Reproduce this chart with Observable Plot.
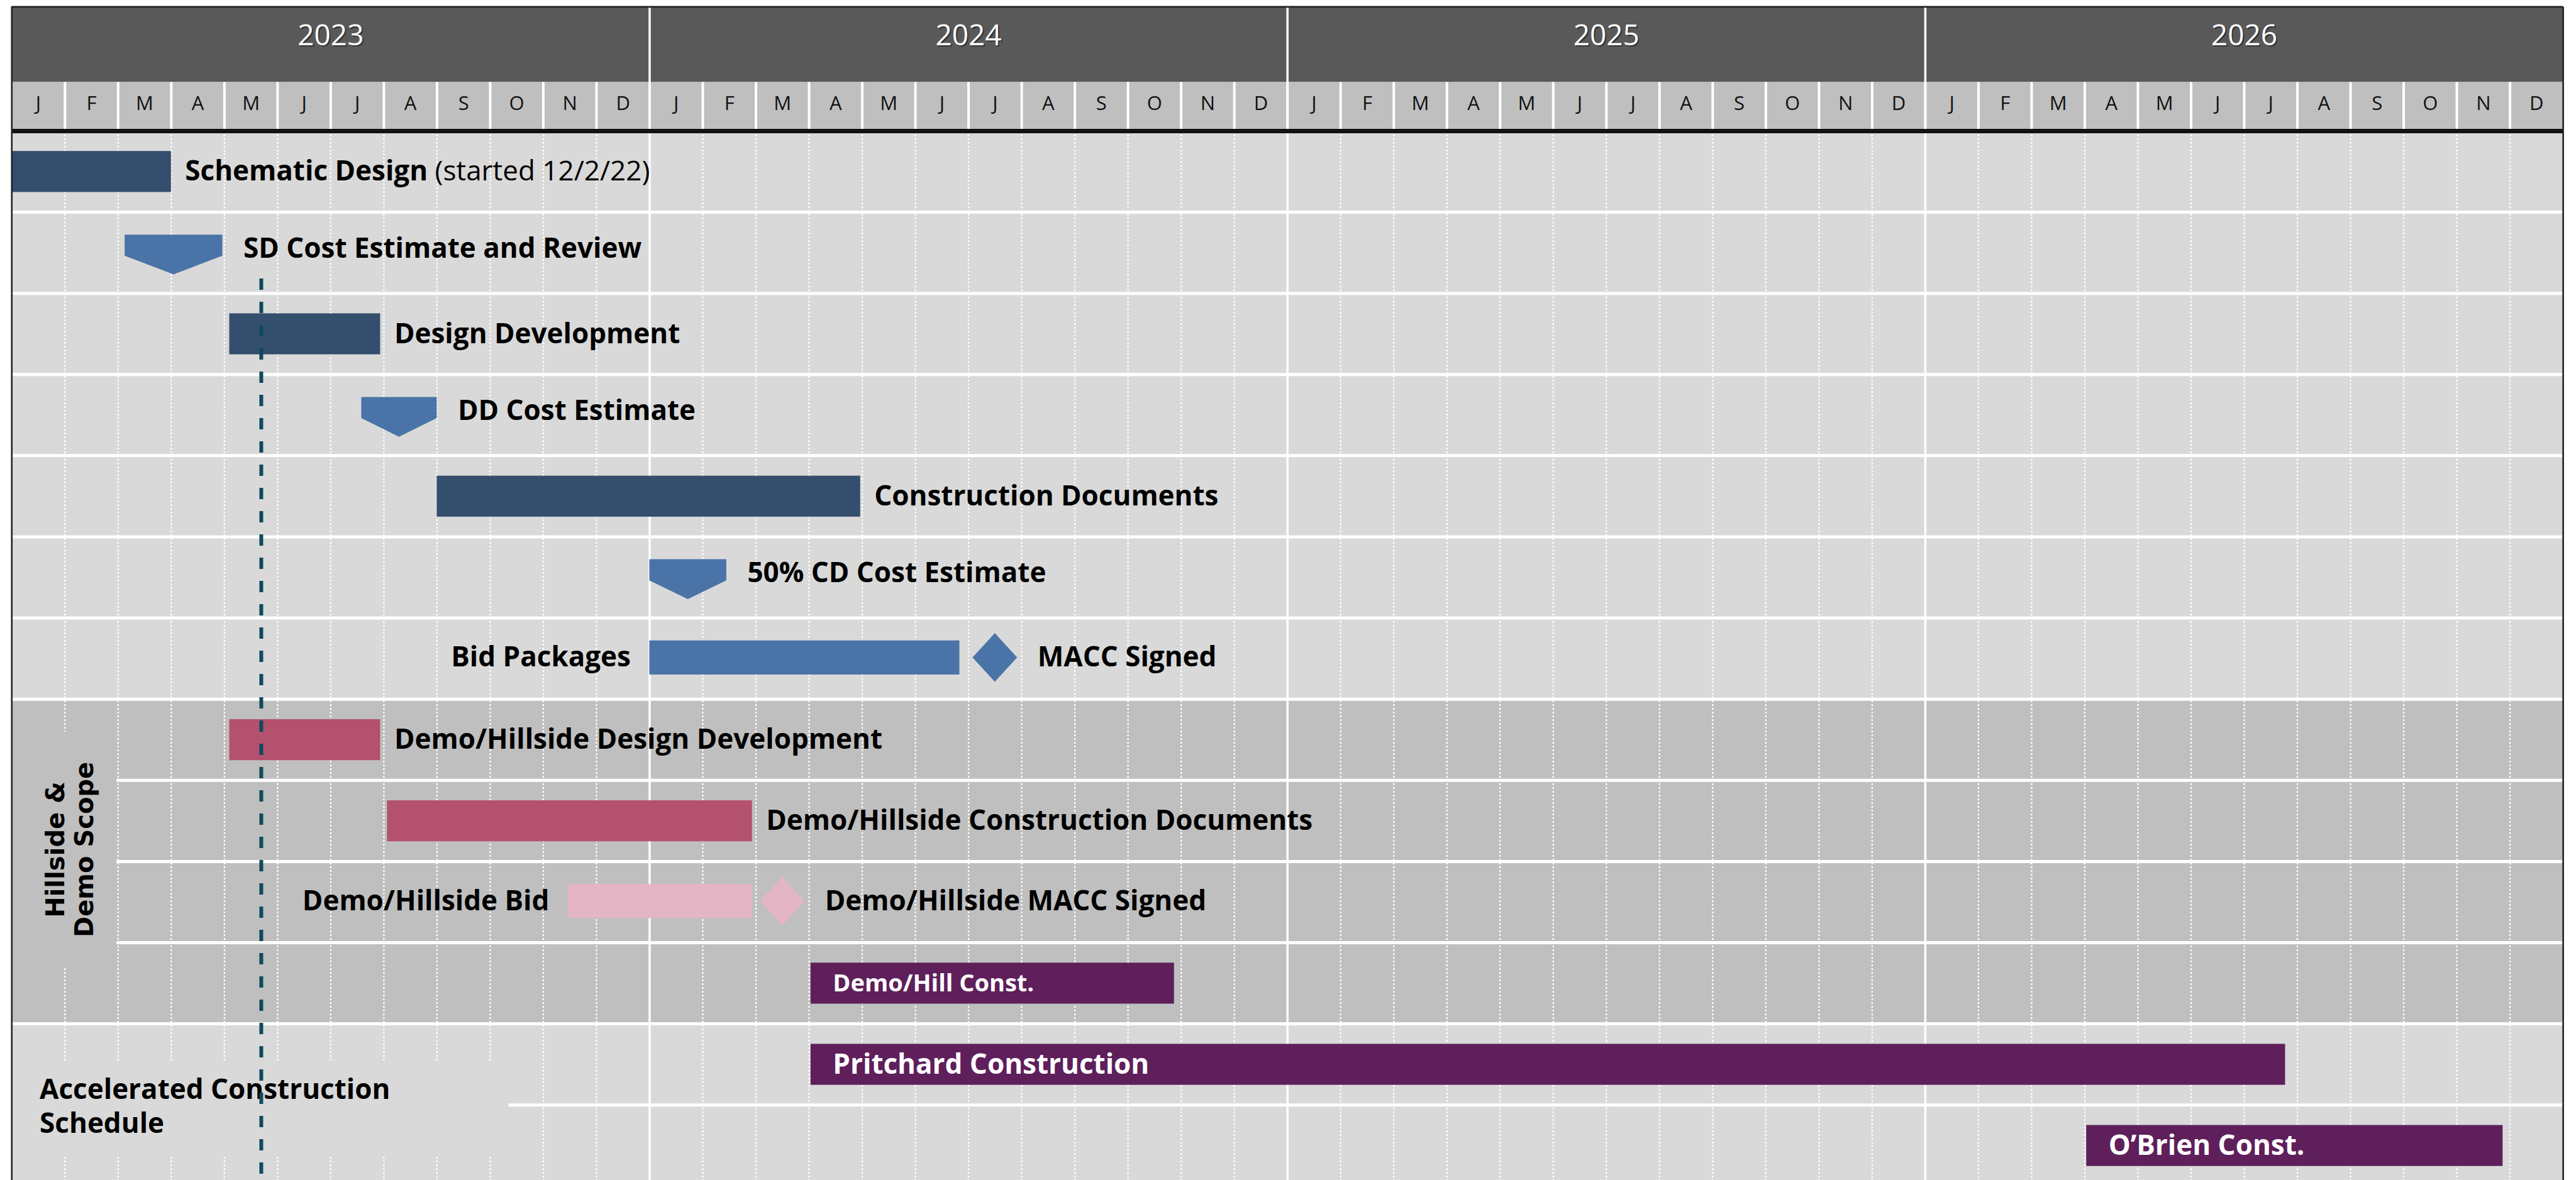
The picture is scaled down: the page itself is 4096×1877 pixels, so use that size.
<!DOCTYPE html>
<html>
<head>
<meta charset="utf-8">
<script src="https://cdn.jsdelivr.net/npm/d3@7"></script>
<script src="https://cdn.jsdelivr.net/npm/@observablehq/plot@0.6"></script>
<style>
  html, body { margin: 0; padding: 0; background: #ffffff; overflow: hidden; }
  #chart svg { display: block; }
</style>
</head>
<body>
<div id="chart"></div>
<script>
// ---------------- data ----------------
const years = [2023, 2024, 2025, 2026];
const monthLetters = ["J", "F", "M", "A", "M", "J", "J", "A", "S", "O", "N", "D"];

const taskNames = [
  "Schematic Design",
  "SD Cost Estimate and Review",
  "Design Development",
  "DD Cost Estimate",
  "Construction Documents",
  "50% CD Cost Estimate",
  "Bid Packages",
  "Demo/Hillside Design Development",
  "Demo/Hillside Construction Documents",
  "Demo/Hillside Bid",
  "Demo/Hill Const.",
  "Pritchard Construction",
  "O’Brien Const."
];
const taskNotes = ["(started 12/2/22)", "", "", "", "", "", "", "", "", "", "", "", ""];
const taskStarts = [
  "2022-12-02", "2023-03-05", "2023-05-04", "2023-07-19", "2023-09-01", "2024-01-01", "2024-01-01",
  "2023-05-04", "2023-08-03", "2023-11-15", "2024-04-02", "2024-04-02", "2026-04-02"
];
const taskEnds = [
  "2023-03-31", "2023-04-29", "2023-07-29", "2023-08-31", "2024-04-29", "2024-02-13", "2024-06-25",
  "2023-07-29", "2024-02-27", "2024-02-27", "2024-10-27", "2026-07-24", "2026-11-26"
];
const taskTypes = [
  "Design", "Estimate", "Design", "Estimate", "Design", "Estimate", "Bid",
  "Demo design", "Demo design", "Demo bid", "Construction", "Construction", "Construction"
];
const taskSections = [
  "Design", "Design", "Design", "Design", "Design", "Design", "Design",
  "Hillside & Demo Scope", "Hillside & Demo Scope", "Hillside & Demo Scope", "Hillside & Demo Scope",
  "Accelerated Construction Schedule", "Accelerated Construction Schedule"
];

const milestoneNames = ["MACC Signed", "Demo/Hillside MACC Signed"];
const milestoneDates = ["2024-07-16", "2024-03-16"];
const milestoneHosts = ["Bid Packages", "Demo/Hillside Bid"];

const todayDate = "2023-05-22";
const todayFromTask = "SD Cost Estimate and Review";

const sectionNames = ["Design", "Hillside & Demo Scope", "Accelerated Construction Schedule"];
const sectionLabels = ["", "Hillside &\nDemo Scope", "Accelerated Construction\nSchedule"];

// ---------------- styles & layout ----------------
const W = 4096, H = 1877, S = 0.87;
const X0 = 21 * S, X1 = 4684 * S;
const ROW0 = 239 * S, ROWH = 148.4 * S;
const HDR_TOP = -1.53, YEAR_BOTTOM = -0.60, YEAR_TEXT_Y = -1.172, MONTH_TEXT_Y = -0.335;
const FONT = "'Open Sans', 'Liberation Sans', Arial, sans-serif";
const LABEL_SIZE = 44;

const typeColor = {
  "Design": "#344e6e",
  "Estimate": "#4a74a7",
  "Bid": "#4a74a7",
  "Demo design": "#b4516f",
  "Demo bid": "#e3b5c5",
  "Construction": "#5e1f5b"
};
const sectionFill = {
  "Design": "#d9d9d9",
  "Hillside & Demo Scope": "#bfbfbf",
  "Accelerated Construction Schedule": "#d9d9d9"
};
const BAR = {top: 0.25, bottom: 0.755};
const THIN = {top: 0.28, bottom: 0.70};
const PENT = {top: 0.28, shoulder: 0.54, tip: 0.77};
const DIAM = {mid: 0.49, half: 0.30, halfWidth: 0.42};
const thinTypes = new Set(["Bid", "Demo bid"]);
const leftTypes = new Set(["Bid", "Demo bid"]);
const insideTypes = new Set(["Construction"]);
const smallLabels = new Set(["Demo/Hill Const."]);
const rotatedSections = new Set(["Hillside & Demo Scope"]);
const boxPad = {
  "Hillside & Demo Scope": {r: 28, t: 48, b: 48},
  "Accelerated Construction Schedule": {r: 188, t: 13, b: 24}
};

// ---------------- derived ----------------
function monthPos(str, part) {
  const [y, m, d] = str.split("-").map(Number);
  const dim = new Date(Date.UTC(y, m, 0)).getUTCDate();
  const off = part === "start" ? d - 1 : part === "end" ? d : d - 0.5;
  return (y - years[0]) * 12 + (m - 1) + off / dim;
}
const nMonths = years.length * 12;
const nRows = taskNames.length;
const visibleRows = (H - ROW0) / ROWH;

const tasks = taskNames.map((name, i) => ({
  name, note: taskNotes[i], row: i, type: taskTypes[i], section: taskSections[i],
  start: monthPos(taskStarts[i], "start"), end: monthPos(taskEnds[i], "end")
}));
const geom = t => thinTypes.has(t.type) ? THIN : BAR;

const bars = tasks.filter(t => t.type !== "Estimate").map(t => ({
  ...t, y1: t.row + geom(t).top, y2: t.row + geom(t).bottom
}));
const pentagons = tasks.filter(t => t.type === "Estimate").flatMap(t => [
  {name: t.name, x: t.start, y1: t.row + PENT.top, y2: t.row + PENT.shoulder, type: t.type},
  {name: t.name, x: (t.start + t.end) / 2, y1: t.row + PENT.top, y2: t.row + PENT.tip, type: t.type},
  {name: t.name, x: t.end, y1: t.row + PENT.top, y2: t.row + PENT.shoulder, type: t.type}
]);
const milestones = milestoneNames.map((name, i) => {
  const host = tasks.find(t => t.name === milestoneHosts[i]);
  return {name, row: host.row, type: host.type, pos: monthPos(milestoneDates[i], "mid")};
});
const diamonds = milestones.flatMap(m => [
  {name: m.name, x: m.pos - DIAM.halfWidth, y1: m.row + DIAM.mid, y2: m.row + DIAM.mid, type: m.type},
  {name: m.name, x: m.pos, y1: m.row + DIAM.mid - DIAM.half, y2: m.row + DIAM.mid + DIAM.half, type: m.type},
  {name: m.name, x: m.pos + DIAM.halfWidth, y1: m.row + DIAM.mid, y2: m.row + DIAM.mid, type: m.type}
]);

const labels = tasks.map(t => {
  const side = insideTypes.has(t.type) ? "inside" : leftTypes.has(t.type) ? "left" : "right";
  const est = t.type === "Estimate";
  const g = geom(t);
  return {
    name: t.name,
    text: t.note ? t.name + " " + t.note : t.name,
    x: side === "right" ? t.end : t.start,
    y: est ? t.row + 0.45 : t.row + (g.top + g.bottom) / 2,
    side, est, small: smallLabels.has(t.name)
  };
});

const sections = sectionNames.map((name, i) => {
  const rows = tasks.filter(t => t.section === name).map(t => t.row);
  return {name, label: sectionLabels[i], r1: d3.min(rows), r2: d3.max(rows) + 1};
});
const todayPos = monthPos(todayDate, "mid");
const todayStartRow = tasks.find(t => t.name === todayFromTask).row + 0.82;

const monthIdx = d3.range(nMonths);
const innerMonthLines = d3.range(1, nMonths).filter(m => m % 12 !== 0);
const yearLines = d3.range(12, nMonths, 12);

// ---------------- plot ----------------
const svg = Plot.plot({
  width: W,
  height: H,
  marginTop: 0, marginRight: 0, marginBottom: 0, marginLeft: 0,
  x: {domain: [0, nMonths], range: [X0, X1], clamp: true, axis: null},
  y: {domain: [0, visibleRows], range: [ROW0, H], axis: null},
  color: {type: "identity"},
  style: {fontFamily: FONT, background: "white"},
  marks: [
    // section backgrounds
    Plot.rect(sections, {x1: 0, x2: nMonths, y1: "r1", y2: "r2", fill: d => sectionFill[d.name]}),
    // header bands
    Plot.rect(years, {x1: (d, i) => i * 12, x2: (d, i) => i * 12 + 12, y1: HDR_TOP, y2: YEAR_BOTTOM, fill: "#595959"}),
    Plot.rect([0], {x1: 0, x2: nMonths, y1: YEAR_BOTTOM, y2: 0, fill: "#bfbfbf"}),
    // gridlines
    Plot.ruleX(innerMonthLines, {y1: 0, y2: nRows, stroke: "white", strokeWidth: 2.3, strokeDasharray: "3,3"}),
    Plot.ruleX(d3.range(1, nMonths), {y1: YEAR_BOTTOM, y2: 0, stroke: "white", strokeWidth: 4}),
    Plot.ruleY(d3.range(1, nRows), {x1: 0, x2: nMonths, stroke: "white", strokeWidth: 5}),
    Plot.ruleX(yearLines, {y1: HDR_TOP, y2: nRows, stroke: "white", strokeWidth: 3.5}),
    // task shapes
    Plot.rect(bars, {x1: "start", x2: "end", y1: "y1", y2: "y2", fill: d => typeColor[d.type], ariaLabel: () => "task bar"}),
    Plot.area(pentagons, {x1: "x", y1: "y1", y2: "y2", z: "name", fill: d => typeColor[d.type], curve: "linear"}),
    Plot.area(diamonds, {x1: "x", y1: "y1", y2: "y2", z: "name", fill: d => typeColor[d.type], curve: "linear"}),
    // task labels
    Plot.text(labels.filter(d => d.side === "right" && !d.est), {
      x: "x", y: "y", text: "text", textAnchor: "start", dx: 22, fontSize: LABEL_SIZE, fontWeight: "bold", fill: "#000"
    }),
    Plot.text(labels.filter(d => d.side === "right" && d.est), {
      x: "x", y: "y", text: "text", textAnchor: "start", dx: 33, fontSize: LABEL_SIZE, fontWeight: "bold", fill: "#000"
    }),
    Plot.text(labels.filter(d => d.side === "left"), {
      x: "x", y: "y", text: "text", textAnchor: "end", dx: -30, fontSize: LABEL_SIZE, fontWeight: "bold", fill: "#000"
    }),
    Plot.text(labels.filter(d => d.side === "inside"), {
      x: "x", y: "y", text: "text", textAnchor: "start", dx: 35, fontSize: d => d.small ? 38 : LABEL_SIZE,
      fontWeight: "bold", fill: "white"
    }),
    Plot.text(milestones, {
      x: d => d.pos + DIAM.halfWidth, y: d => d.row + DIAM.mid, text: "name", textAnchor: "start", dx: 32,
      fontSize: LABEL_SIZE, fontWeight: "bold", fill: "#000"
    }),
    // section labels
    Plot.text(sections.filter(d => d.label && rotatedSections.has(d.name)), {
      frameAnchor: "left", dx: 110, dy: -19, y: d => (d.r1 + d.r2) / 2, text: "label", rotate: -90,
      textAnchor: "middle", lineAnchor: "middle",
      fontFamily: "'DejaVu Sans', Verdana, sans-serif", fontWeight: "bold", fontSize: 40, lineHeight: 1.15,
      fill: "#000", ariaLabel: () => "section label"
    }),
    Plot.text(sections.filter(d => d.label && !rotatedSections.has(d.name)), {
      frameAnchor: "left", dx: 62.6, y: d => (d.r1 + d.r2) / 2, text: "label", textAnchor: "start",
      lineAnchor: "middle",
      fontWeight: "bold", fontSize: 44, lineHeight: 1.23, fill: "#000", ariaLabel: () => "section label"
    }),
    // header labels
    Plot.text(years, {x: (d, i) => i * 12 + 6, y: YEAR_TEXT_Y, text: d => String(d), dx: 2, dy: 2,
      fill: "#222", fillOpacity: 0.7, fontSize: 46}),
    Plot.text(years, {x: (d, i) => i * 12 + 6, y: YEAR_TEXT_Y, text: d => String(d), fill: "white", fontSize: 46}),
    Plot.text(monthIdx, {x: d => d + 0.5, y: MONTH_TEXT_Y, text: d => monthLetters[d % 12], fill: "#111", fontSize: 31}),
    // frame lines
    Plot.ruleY([0], {x1: 0, x2: nMonths, stroke: "#111", strokeWidth: 7}),
    Plot.ruleY([HDR_TOP], {x1: 0, x2: nMonths, stroke: "#222", strokeWidth: 2.6}),
    Plot.ruleX([0, nMonths], {y1: HDR_TOP, y2: nRows, stroke: "#222", strokeWidth: 2.6}),
    // today marker
    Plot.ruleX([todayPos], {y1: todayStartRow, y2: nRows, stroke: "#0d4a5c", strokeWidth: 6, strokeDasharray: "18,19"})
  ]
});
document.getElementById("chart").append(svg);

// ---------------- post-processing ----------------
const NS = "http://www.w3.org/2000/svg";
// mixed-weight note after a bold task name
svg.querySelectorAll("text").forEach(el => {
  const t = tasks.find(t => t.note && el.textContent === t.name + " " + t.note);
  if (!t) return;
  el.textContent = "";
  const a = document.createElementNS(NS, "tspan");
  a.textContent = t.name + " ";
  const b = document.createElementNS(NS, "tspan");
  b.setAttribute("font-weight", "normal");
  b.textContent = t.note;
  el.append(a, b);
});
// boxes behind section labels (hide gridlines as in the original)
const svgBox = svg.getBoundingClientRect();
const firstBar = svg.querySelector('rect[aria-label="task bar"]');
const anchor = firstBar ? firstBar.parentNode : null;
svg.querySelectorAll('text[aria-label="section label"]').forEach(el => {
  const txt = el.textContent;
  const sec = sections.find(s => s.label && s.label.replace("\n", "") === txt);
  if (!sec || !anchor) return;
  const pad = boxPad[sec.name];
  const r = el.getBoundingClientRect();
  const left = X0 + 1.5;
  const right = r.right - svgBox.left + pad.r;
  const top = r.top - svgBox.top - pad.t;
  const bottom = r.bottom - svgBox.top + pad.b;
  const rect = document.createElementNS(NS, "rect");
  rect.setAttribute("x", left);
  rect.setAttribute("y", top);
  rect.setAttribute("width", right - left);
  rect.setAttribute("height", bottom - top);
  rect.setAttribute("fill", sectionFill[sec.name]);
  anchor.parentNode.insertBefore(rect, anchor);
});
</script>
</body>
</html>
